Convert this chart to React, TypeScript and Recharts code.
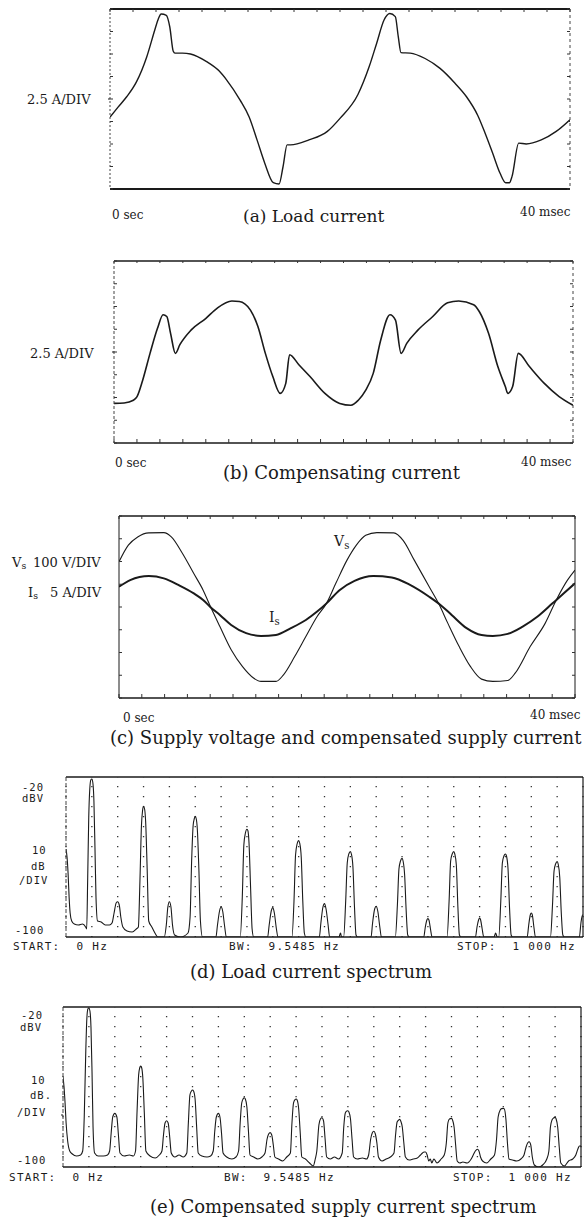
import React from 'react';
import { LineChart, Line, XAxis, YAxis, CartesianGrid } from 'recharts';

const INK = '#1a1a1a';
const SERIF = '"DejaVu Serif", serif';
const MONO = '"DejaVu Sans Mono", monospace';

// ---------- ticks ----------
const timeTicks = [0, 2, 4, 6, 8, 10, 12, 14, 16, 18, 20, 22, 24, 26, 28, 30, 32, 34, 36, 38, 40];
const ampTicks = [-10, -7.5, -5, -2.5, 0, 2.5, 5, 7.5, 10];
const voltTicks = [-400, -300, -200, -100, 0, 100, 200, 300, 400];
const harmonicTicks = [50, 100, 150, 200, 250, 300, 350, 400, 450, 500, 550, 600, 650, 700, 750, 800, 850, 900, 950];
const dbTicks = [-100, -90, -80, -70, -60, -50, -40, -30, -20];

// ---------- (a) load current, ms / A ----------
const loadT = [0, 0.7, 1.45, 2.3, 3.2, 3.9, 4.2, 4.45, 4.9, 5.2, 5.5, 5.65, 6.3, 7.0, 8.4, 9.5, 10.15, 11.3, 12.1, 12.8, 13.45, 14.2, 14.7, 15.05, 15.4, 15.7, 17.3, 18.9, 20.0, 21.56, 22.54, 23.19, 23.84, 24.33, 24.81, 25.07, 25.3, 26.1, 27.4, 28.7, 30.0, 31.0, 31.97, 32.62, 33.27, 33.92, 34.41, 34.73, 34.96, 35.54, 36.19, 37.5, 38.8, 40];
const loadA = [-2.0, -0.9, 0.25, 1.9, 4.7, 7.7, 8.9, 9.45, 9.3, 8.0, 5.3, 5.1, 5.1, 5.0, 4.15, 3.1, 2.1, -0.1, -2.0, -4.6, -7.1, -9.3, -9.45, -7.5, -5.1, -5.1, -4.55, -3.6, -2.15, 0.5, 3.6, 6.2, 8.8, 9.5, 9.15, 6.9, 5.15, 5.1, 4.5, 3.4, 1.75, 0.25, -1.8, -3.8, -6.0, -8.25, -9.3, -9.3, -8.6, -4.9, -5.0, -4.55, -3.6, -2.3];

// ---------- (b) compensating current, ms / A ----------
const compT = [0, 0.88, 1.69, 2.01, 2.5, 3.14, 3.79, 4.28, 4.6, 4.93, 5.35, 5.74, 6.71, 8.01, 8.98, 10.27, 10.92, 11.89, 12.54, 13.19, 13.84, 14.49, 14.97, 15.3, 16.11, 17.08, 18.38, 19.67, 20.65, 21.29, 21.94, 22.59, 23.24, 24.05, 24.53, 25.02, 25.51, 26.48, 27.78, 29.07, 30.04, 31.34, 31.83, 32.64, 33.45, 34.1, 34.32, 34.74, 35.23, 36.2, 37.5, 38.79, 40];
const compA = [-5.65, -5.6, -5.3, -4.9, -3.1, -0.15, 2.6, 4.1, 3.9, 2.05, -0.15, 0.8, 2.4, 3.7, 4.8, 5.6, 5.55, 4.6, 2.8, -0.15, -2.7, -4.55, -3.45, -0.3, -1.4, -2.7, -4.55, -5.65, -5.85, -5.3, -4.2, -2.35, 1.3, 4.1, 3.5, -0.15, 0.95, 2.4, 3.9, 5.4, 5.6, 5.2, 4.45, 2.05, -1.6, -3.8, -4.55, -3.8, -0.15, -1.6, -3.45, -4.9, -5.85];

// ---------- (c) supply voltage (V) and supply current (A) ----------
const vsT = [0, 0.82, 1.64, 2.62, 3.93, 4.59, 5.57, 6.56, 7.38, 8.03, 8.85, 9.84, 10.82, 11.8, 12.46, 13.77, 14.43, 15.41, 16.39, 17.38, 18.2, 19.02, 20.0, 20.82, 21.64, 22.62, 24.1, 24.92, 25.9, 27.21, 28.03, 28.85, 29.84, 30.82, 31.8, 32.79, 34.1, 34.75, 36.07, 37.38, 38.36, 39.34, 40];
const vsV = [199, 272, 308, 326, 327, 308, 235, 147, 74, 1, -86, -188, -261, -312, -327, -327, -298, -218, -130, -42, 16, 104, 206, 272, 315, 327, 326, 293, 206, 89, 16, -72, -174, -261, -317, -327, -323, -291, -174, -72, 31, 118, 162];
const isT = [0, 0.98, 2.62, 3.93, 5.25, 6.56, 7.38, 8.03, 8.85, 9.84, 11.15, 12.46, 13.77, 15.08, 16.39, 17.38, 18.2, 19.34, 20.66, 22.3, 23.93, 25.57, 27.21, 28.2, 29.18, 30.49, 31.8, 32.79, 34.1, 35.41, 36.72, 38.03, 39.02, 40];
const isA = [4.45, 5.9, 6.8, 6.3, 4.8, 3.0, 1.55, -0.05, -1.75, -3.95, -5.75, -6.35, -6.15, -4.65, -2.85, -1.0, 0.8, 3.7, 5.75, 6.8, 6.5, 4.8, 2.25, 0.45, -1.75, -4.65, -6.15, -6.35, -5.9, -4.3, -2.1, 0.8, 3.0, 5.2];

// ---------- (d) load current spectrum, Hz / dBV ----------
const loadSpectrum: [number, number][] = [
  [0, -56], [2, -60], [4, -68], [6, -80], [8, -88], [11, -92], [16, -93.5], [24, -94], [32, -93.5], [38, -95], [40, -96],
  [42, -70], [44, -40], [46, -26], [48, -21.5], [50, -21], [52, -23], [54, -32], [56, -55], [58, -80], [61, -92],
  [68, -92.5], [76, -94], [84, -94], [89, -93], [93, -88], [97, -83], [100, -82.4], [103, -84], [106, -90], [110, -95],
  [118, -97], [128, -97.5], [136, -96], [140, -95], [143, -72], [146, -44], [148, -37], [150, -34.7], [152, -36], [154, -42], [157, -66], [160, -92],
  [166, -95], [172, -98], [178, -100], [190, -100], [194, -94], [197, -85], [200, -82.4], [203, -85], [206, -94], [210, -99],
  [222, -100], [236, -98], [240, -90], [243, -62], [246, -44], [248, -41], [250, -39.7], [252, -41], [254, -46], [257, -66], [260, -92], [264, -100],
  [290, -100], [293, -94], [297, -87], [300, -84.9], [303, -87], [307, -95], [310, -100],
  [337, -100], [341, -80], [344, -54], [347, -48], [350, -46.1], [352, -47], [354, -53], [357, -75], [360, -96], [363, -100],
  [390, -100], [393, -94], [397, -87], [400, -85.3], [403, -88], [407, -96], [410, -100],
  [437, -100], [441, -82], [444, -59], [447, -53.5], [450, -51.8], [452, -53], [455, -60], [458, -82], [461, -98], [464, -100],
  [490, -100], [493, -93], [497, -85], [500, -83.3], [503, -86], [507, -94], [510, -100],
  [528, -100], [531, -98], [533, -100],
  [537, -100], [541, -82], [544, -63], [547, -58.5], [550, -57.3], [552, -58.5], [555, -65], [558, -85], [561, -99], [564, -100],
  [590, -100], [593, -93], [597, -86], [600, -84.6], [603, -87], [607, -95], [610, -100],
  [637, -100], [641, -84], [644, -66], [647, -62], [650, -60.7], [652, -62], [655, -69], [658, -87], [661, -99], [664, -100],
  [692, -100], [695, -95], [698, -91.5], [700, -90.8], [702, -91.5], [705, -96], [708, -100],
  [737, -100], [741, -82], [744, -62], [747, -58.5], [750, -57.3], [752, -58.5], [755, -64], [758, -85], [761, -99], [764, -100],
  [792, -100], [795, -95], [798, -91.5], [800, -90.5], [802, -91.5], [805, -96], [808, -100],
  [828, -100], [831, -98], [834, -100],
  [837, -100], [841, -82], [844, -63], [847, -59.5], [850, -58.5], [852, -59.5], [855, -66], [858, -86], [861, -99], [864, -100],
  [892, -100], [895, -94], [898, -89], [900, -88], [902, -89], [905, -95], [908, -100],
  [937, -100], [941, -84], [944, -67], [947, -63.5], [950, -62.3], [952, -63.5], [955, -70], [958, -88], [961, -99], [964, -100],
  [993, -100], [996, -93], [999, -89], [1000, -89.1],
];

// ---------- (e) compensated supply current spectrum, Hz / dBV ----------
const supplySpectrum: [number, number][] = [
  [0, -55], [2, -60], [4, -68], [6, -78], [9, -87], [13, -92], [18, -93.5], [26, -94.5], [34, -94], [38, -92],
  [41, -75], [44, -42], [46, -26], [48, -21], [50, -20.5], [52, -22], [54, -30], [56, -52], [58, -80], [61, -93],
  [68, -94.5], [78, -94.5], [86, -94], [90, -92], [93, -83], [96, -75], [100, -73.2], [104, -75], [107, -84], [110, -93],
  [118, -94.5], [128, -94], [136, -94.5], [140, -92], [143, -72], [146, -54], [148, -50.5], [150, -49.5], [152, -50.5], [154, -55], [157, -73], [160, -92],
  [168, -94.5], [178, -95.5], [186, -94], [191, -92], [194, -84], [197, -78], [200, -76.9], [203, -78], [206, -85], [209, -93],
  [216, -95], [224, -94], [232, -95], [239, -93], [242, -78], [245, -64], [248, -62], [250, -61.5], [252, -62], [255, -66], [258, -80], [261, -93],
  [268, -94.5], [278, -95], [285, -94.5], [290, -92], [293, -82], [296, -75], [300, -73.2], [303, -75], [306, -83], [309, -93],
  [316, -95], [326, -96], [334, -95], [339, -92], [342, -78], [345, -68], [348, -65.8], [350, -65.4], [352, -66], [355, -70], [358, -82], [361, -94],
  [368, -95], [376, -96], [384, -95], [390, -93], [394, -86], [397, -83.5], [400, -82.8], [403, -84], [406, -89], [409, -95],
  [416, -96], [424, -97], [432, -95], [439, -93], [442, -78], [445, -68], [448, -66.3], [450, -66], [452, -66.5], [455, -71], [458, -83], [461, -95],
  [468, -96], [476, -98], [483, -99.5], [487, -96], [490, -92], [494, -79], [497, -76], [500, -75.4], [503, -77], [506, -86], [509, -95],
  [516, -96], [524, -95], [532, -96], [539, -93], [542, -80], [545, -73], [548, -72], [550, -71.9], [552, -72.5], [555, -76], [558, -86], [561, -95],
  [568, -96], [578, -95.5], [586, -96], [590, -94], [594, -86], [597, -83], [600, -82.1], [603, -83.5], [606, -88], [609, -95],
  [616, -97], [624, -96], [632, -95], [639, -93], [642, -84], [645, -77.5], [648, -76.5], [650, -76.1], [652, -77], [655, -80], [658, -88], [661, -95],
  [668, -96.5], [676, -96], [684, -95.5], [690, -94], [694, -93], [697, -92.5], [700, -92.5], [703, -94], [706, -97], [709, -96], [712, -98], [716, -96],
  [722, -98], [730, -96], [736, -94], [740, -88], [743, -78], [746, -76], [750, -75.7], [752, -76.5], [755, -80], [758, -89], [761, -97],
  [766, -98], [772, -97.5], [780, -98], [788, -96], [792, -94], [796, -92], [800, -91.1], [803, -92], [806, -95], [810, -97],
  [818, -98], [826, -96], [833, -94], [837, -86], [840, -75], [844, -71.5], [847, -70.8], [850, -70.7], [852, -71], [855, -76], [858, -88], [861, -96],
  [868, -96.5], [876, -97], [884, -96], [890, -94], [894, -90], [897, -88], [900, -87.4], [903, -89], [906, -95], [910, -99],
  [918, -100], [926, -99], [934, -96], [938, -92], [941, -80], [944, -76.5], [947, -75.5], [950, -75.2], [952, -76], [955, -80], [958, -90], [961, -98],
  [968, -99.5], [976, -97], [984, -96], [990, -94], [994, -91], [997, -89.5], [1000, -89.5],
];

type Row = { x: number; y: number };
type Edge = { stroke: string; strokeWidth: number; strokeDasharray?: string };
const zip = (xs: number[], ys: number[]): Row[] => xs.map((x, i) => ({ x, y: ys[i] }));
const fromPairs = (p: [number, number][]): Row[] => p.map(([x, y]) => ({ x, y }));

interface FrameSpec {
  xDomain: [number, number];
  xTicks: number[];
  yDomain: [number, number];
  yTicks: number[];
  top: Edge; bottom: Edge; left: Edge; right: Edge;
  topTick: number; bottomTick: number; leftTick: number; rightTick: number;
  mark?: number[];
  markSize?: number;
}

const tl = { stroke: '#333', strokeWidth: 1 };
const blank = () => '';

function frameAxes(f: FrameSpec) {
  const common = { allowDataOverflow: true, tickFormatter: blank, interval: 0 as const, type: 'number' as const };
  const axes = [
    <XAxis key="xb" xAxisId="b" dataKey="x" {...common} domain={f.xDomain} ticks={f.xTicks} orientation="bottom" mirror height={1} tickSize={f.bottomTick} tickLine={f.bottomTick > 0 ? tl : false} axisLine={f.bottom} />,
    <XAxis key="xt" xAxisId="t" dataKey="x" {...common} domain={f.xDomain} ticks={f.xTicks} orientation="top" mirror height={1} tickSize={f.topTick} tickLine={f.topTick > 0 ? tl : false} axisLine={f.top} />,
    <YAxis key="yl" yAxisId="l" {...common} domain={f.yDomain} ticks={f.yTicks} orientation="left" mirror width={1} tickSize={f.leftTick} tickLine={f.leftTick > 0 ? tl : false} axisLine={f.left} />,
    <YAxis key="yr" yAxisId="r" {...common} domain={f.yDomain} ticks={f.yTicks} orientation="right" mirror width={1} tickSize={f.rightTick} tickLine={f.rightTick > 0 ? tl : false} axisLine={f.right} />,
  ];
  if (f.mark) {
    axes.push(
      <YAxis key="ym" yAxisId="m" {...common} domain={f.yDomain} ticks={f.mark} orientation="left" width={1} tickSize={f.markSize || 4} tickLine={{ stroke: INK, strokeWidth: 1.2 }} axisLine={false} />
    );
  }
  return axes;
}

const solid = (w: number): Edge => ({ stroke: INK, strokeWidth: w });
const dashed = (w: number, d: string): Edge => ({ stroke: '#444', strokeWidth: w, strokeDasharray: d });

function Txt(props: { x: number; y: number; size: number; font: string; children: React.ReactNode; spacing?: number }) {
  const { x, y, size, font, children, spacing } = props;
  return (
    <div
      style={{
        position: 'absolute', left: x, top: y - size * 0.5, fontSize: size, lineHeight: `${size}px`,
        fontFamily: font, whiteSpace: 'pre', color: INK, letterSpacing: spacing || 0,
      }}
    >
      {children}
    </div>
  );
}

const Sub = ({ c }: { c: string }) => (
  <span style={{ fontSize: '0.72em', position: 'relative', top: '0.3em' }}>{c}</span>
);

const M = { top: 2, right: 2, bottom: 2, left: 2 };
const MM = { top: 2, right: 2, bottom: 2, left: 1 }; // left axis mark reserves 1px

export default function App() {
  const loadRows = zip(loadT, loadA);
  const compRows = zip(compT, compA);
  const vsRows = zip(vsT, vsV);
  const isRows = zip(isT, isA);
  const specD = fromPairs(loadSpectrum);
  const specE = fromPairs(supplySpectrum);

  return (
    <div style={{ position: 'absolute', left: 0, top: 0, width: 585, height: 1219, background: '#fff', overflow: 'hidden' }}>
      {/* (a) */}
      <div style={{ position: 'absolute', left: 108, top: 7 }}>
        <LineChart width={464} height={184} margin={MM}>
          {frameAxes({
            xDomain: [0, 40], xTicks: timeTicks, yDomain: [-10, 10], yTicks: ampTicks,
            top: solid(2), bottom: solid(2), left: dashed(1, '2 2'), right: dashed(1, '3 3'),
            topTick: 3, bottomTick: 0, leftTick: 3, rightTick: 3, mark: [0], markSize: 4,
          })}
          <Line xAxisId="b" yAxisId="l" data={loadRows} dataKey="y" type="monotone" dot={false} stroke={INK} strokeWidth={1.4} isAnimationActive={false} />
        </LineChart>
      </div>
      <Txt x={27} y={99} size={13} font={SERIF}>2.5 A/DIV</Txt>
      <Txt x={112} y={215} size={12} font={SERIF}>0 sec</Txt>
      <Txt x={243} y={216} size={17} font={SERIF}>(a) Load current</Txt>
      <Txt x={520} y={212} size={12} font={SERIF}>40 msec</Txt>

      {/* (b) */}
      <div style={{ position: 'absolute', left: 112, top: 259 }}>
        <LineChart width={463} height={186} margin={MM}>
          {frameAxes({
            xDomain: [0, 40], xTicks: timeTicks, yDomain: [-10, 10], yTicks: ampTicks,
            top: solid(1.6), bottom: solid(1.6), left: dashed(1, '3 2'), right: dashed(1, '3 3'),
            topTick: 2, bottomTick: 4, leftTick: 3, rightTick: 3, mark: [0], markSize: 4,
          })}
          <Line xAxisId="b" yAxisId="l" data={compRows} dataKey="y" type="monotone" dot={false} stroke={INK} strokeWidth={1.6} isAnimationActive={false} />
        </LineChart>
      </div>
      <Txt x={30} y={353} size={13} font={SERIF}>2.5 A/DIV</Txt>
      <Txt x={115} y={463} size={12} font={SERIF}>0 sec</Txt>
      <Txt x={223} y={473} size={18} font={SERIF}>(b) Compensating current</Txt>
      <Txt x={521} y={462} size={12} font={SERIF}>40 msec</Txt>

      {/* (c) */}
      <div style={{ position: 'absolute', left: 117, top: 514 }}>
        <LineChart width={460} height={186} margin={MM}>
          {frameAxes({
            xDomain: [0, 40], xTicks: timeTicks, yDomain: [-400, 400], yTicks: voltTicks,
            top: solid(1.4), bottom: solid(1.4), left: solid(1), right: solid(1),
            topTick: 3, bottomTick: 4, leftTick: 3, rightTick: 3, mark: [0], markSize: 4,
          })}
          <YAxis yAxisId="i" type="number" domain={[-20, 20]} hide allowDataOverflow />
          <Line xAxisId="b" yAxisId="l" data={vsRows} dataKey="y" type="monotone" dot={false} stroke={INK} strokeWidth={1.1} isAnimationActive={false} />
          <Line xAxisId="b" yAxisId="i" data={isRows} dataKey="y" type="monotone" dot={false} stroke={INK} strokeWidth={2} isAnimationActive={false} />
        </LineChart>
      </div>
      <Txt x={12} y={562} size={13} font={SERIF}>V<Sub c="s" /></Txt>
      <Txt x={33} y={562} size={13} font={SERIF}>100 V/DIV</Txt>
      <Txt x={28} y={592} size={13} font={SERIF}>I<Sub c="s" /></Txt>
      <Txt x={50} y={592} size={13} font={SERIF}>5 A/DIV</Txt>
      <Txt x={334} y={541} size={14} font={SERIF}>V<Sub c="s" /></Txt>
      <Txt x={269} y={617} size={14} font={SERIF}>I<Sub c="s" /></Txt>
      <Txt x={123} y={718} size={12} font={SERIF}>0 sec</Txt>
      <Txt x={530} y={715} size={12} font={SERIF}>40 msec</Txt>
      <Txt x={110} y={738} size={18} font={SERIF}>(c) Supply voltage and compensated supply current</Txt>

      {/* (d) */}
      <div style={{ position: 'absolute', left: 64, top: 775 }}>
        <LineChart width={521} height={164} margin={M}>
          {frameAxes({
            xDomain: [0, 1000], xTicks: harmonicTicks, yDomain: [-100, -20], yTicks: dbTicks,
            top: solid(1.4), bottom: solid(1.4), left: dashed(1, '4 2'), right: solid(1.2),
            topTick: 0, bottomTick: 0, leftTick: 0, rightTick: 0,
          })}
          <CartesianGrid xAxisId="b" yAxisId="l" horizontal={false} stroke="#333" strokeWidth={1.3} strokeDasharray="1.3 8.7" strokeDashoffset={-9} />
          <Line xAxisId="b" yAxisId="l" data={specD} dataKey="y" type="monotone" dot={false} stroke={INK} strokeWidth={1.1} isAnimationActive={false} />
        </LineChart>
      </div>
      <Txt x={22} y={787} size={10.5} font={MONO} spacing={1}>-20</Txt>
      <Txt x={22} y={798} size={10.5} font={MONO} spacing={1}>dBV</Txt>
      <Txt x={32} y={850} size={10.5} font={MONO} spacing={1}>10</Txt>
      <Txt x={31} y={866} size={10.5} font={MONO} spacing={1}>dB</Txt>
      <Txt x={19} y={880} size={10.5} font={MONO} spacing={1}>/DIV</Txt>
      <Txt x={15} y={930} size={10.5} font={MONO} spacing={1}>-100</Txt>
      <Txt x={13} y={946} size={11} font={MONO} spacing={1.3}>{'START:  0 Hz'}</Txt>
      <Txt x={229} y={946} size={11} font={MONO} spacing={1.3}>{'BW:  9.5485 Hz'}</Txt>
      <Txt x={457} y={946} size={11} font={MONO} spacing={1.3}>{'STOP:  1 000 Hz'}</Txt>
      <Txt x={190} y={972} size={18} font={SERIF}>(d) Load current spectrum</Txt>

      {/* (e) */}
      <div style={{ position: 'absolute', left: 61, top: 1005 }}>
        <LineChart width={522} height={164} margin={MM}>
          {frameAxes({
            xDomain: [0, 1000], xTicks: harmonicTicks, yDomain: [-100, -20], yTicks: dbTicks,
            top: solid(1.4), bottom: solid(1.4), left: dashed(1, '4 2'), right: solid(1.2),
            topTick: 0, bottomTick: 0, leftTick: 0, rightTick: 0, mark: [-74], markSize: 5,
          })}
          <CartesianGrid xAxisId="b" yAxisId="l" horizontal={false} stroke="#333" strokeWidth={1.3} strokeDasharray="1.3 8.7" strokeDashoffset={-9} />
          <Line xAxisId="b" yAxisId="l" data={specE} dataKey="y" type="monotone" dot={false} stroke={INK} strokeWidth={1.1} isAnimationActive={false} />
        </LineChart>
      </div>
      <Txt x={21} y={1015} size={10.5} font={MONO} spacing={1}>-20</Txt>
      <Txt x={20} y={1027} size={10.5} font={MONO} spacing={1}>dBV</Txt>
      <Txt x={31} y={1080} size={10.5} font={MONO} spacing={1}>10</Txt>
      <Txt x={30} y={1095} size={10.5} font={MONO} spacing={1}>dB.</Txt>
      <Txt x={17} y={1112} size={10.5} font={MONO} spacing={1}>/DIV</Txt>
      <Txt x={17} y={1160} size={10.5} font={MONO} spacing={1}>-100</Txt>
      <Txt x={9} y={1177} size={11} font={MONO} spacing={1.3}>{'START:  0 Hz'}</Txt>
      <Txt x={224} y={1177} size={11} font={MONO} spacing={1.3}>{'BW:  9.5485 Hz'}</Txt>
      <Txt x={453} y={1177} size={11} font={MONO} spacing={1.3}>{'STOP:  1 000 Hz'}</Txt>
      <Txt x={150} y={1207} size={18} font={SERIF}>(e) Compensated supply current spectrum</Txt>
    </div>
  );
}
